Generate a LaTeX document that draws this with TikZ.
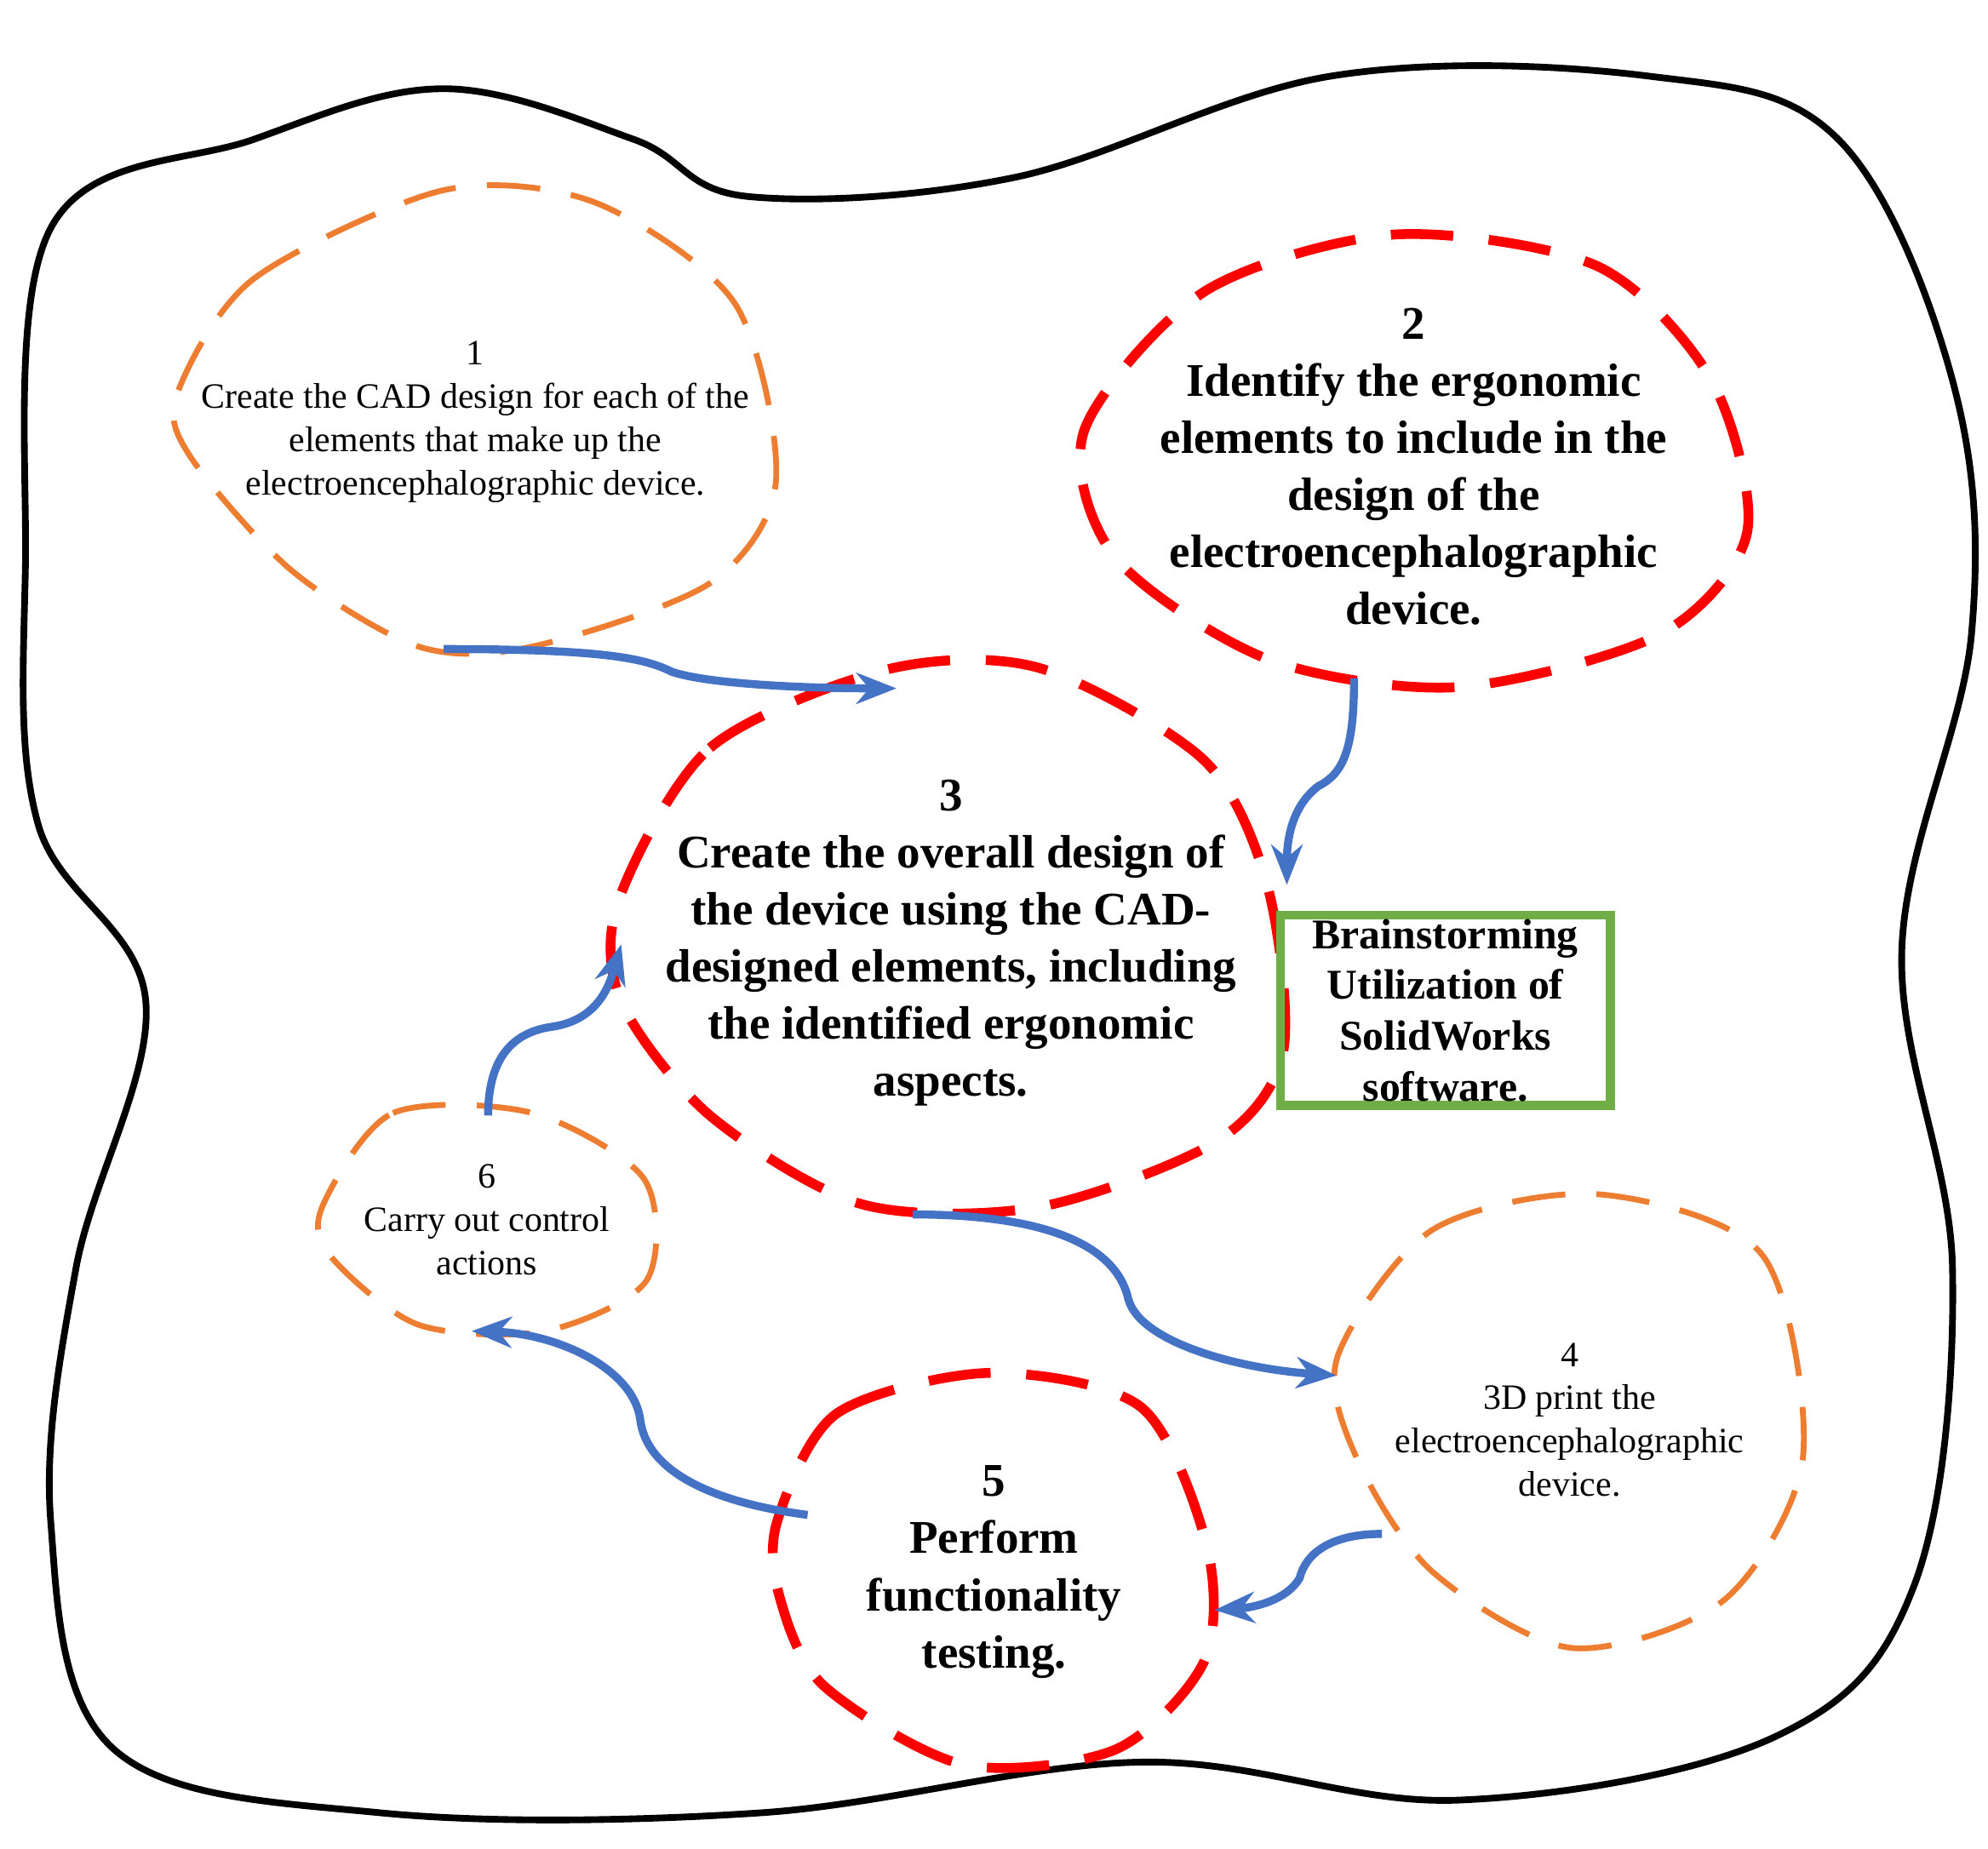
\documentclass[tikz,border=0pt]{standalone}
\usepackage{fontspec}
\setmainfont{Liberation Serif}
\usetikzlibrary{arrows.meta}
\definecolor{bl}{HTML}{4472C4}
\definecolor{org}{HTML}{ED7D31}
\definecolor{gr}{HTML}{70AD47}
\begin{document}
\begin{tikzpicture}[x=0.01cm,y=-0.01cm,
  ob/.style={draw=org,line width=1.3pt,dash pattern=on 12pt off 7pt},
  rb/.style={draw=red,line width=2.2pt,dash pattern=on 14pt off 8pt},
  ar/.style={draw=bl,line width=1.8pt,-{Stealth[length=9pt,width=7pt]}},
  sm/.style={align=center,font=\fontsize{8}{9.7}\selectfont},
  bg/.style={align=center,font=\bfseries\fontsize{10.5}{12.8}\selectfont}]
\useasboundingbox (0,0) rectangle (1568,1458);
% outer
\draw[line width=1.5pt] plot[smooth cycle,tension=0.6] coordinates{(40,180)(200,110)(350,70)(500,110)(590,155)(800,140)(1050,60)(1300,60)(1450,110)(1540,300)(1555,500)(1500,750)(1540,1000)(1510,1250)(1400,1370)(1150,1420)(900,1390)(600,1430)(300,1430)(90,1380)(40,1200)(60,1000)(115,790)(30,650)(20,450)};
% blobs
\draw[ob] plot[smooth cycle] coordinates{(140,310)(200,220)(350,150)(470,160)(580,240)(612,380)(560,460)(420,510)(330,510)(230,450)(150,360)};
\draw[rb] plot[smooth cycle] coordinates{(855,340)(950,230)(1100,185)(1260,210)(1350,300)(1378,420)(1310,500)(1150,542)(1000,520)(880,440)};
\draw[rb] plot[smooth cycle] coordinates{(488,710)(560,590)(700,528)(820,527)(950,600)(1000,700)(1012,830)(960,900)(820,952)(680,950)(560,880)(490,790)};
\draw[ob] plot[smooth cycle] coordinates{(255,950)(310,878)(420,878)(508,930)(510,1010)(430,1050)(330,1045)(260,990)};
\draw[ob] plot[smooth cycle] coordinates{(1055,1070)(1130,970)(1260,942)(1390,990)(1422,1150)(1360,1262)(1240,1300)(1130,1240)(1070,1150)};
\draw[rb] plot[smooth cycle] coordinates{(613,1200)(660,1115)(780,1083)(900,1110)(952,1220)(950,1310)(880,1380)(760,1392)(650,1330)(615,1260)};
% texts
\node[sm] (n1) at (375,333) {1\\Create the CAD design for each of the\\elements that make up the\\electroencephalographic\ device.};
\node[bg] (n2) at (1115,368) {2\\Identify the ergonomic\\elements to include in the\\design of the\\electroencephalographic\\device.};
\node[bg] (n3) at (750,744) {3\\Create the overall design of\\the device using the CAD-\\designed elements, including\\the identified ergonomic\\aspects.};
\node[draw=gr,line width=2pt,minimum width=2.6cm,minimum height=1.5cm,inner sep=0pt,align=center,font=\bfseries\fontsize{9.5}{11.4}\selectfont] (g) at (1140,797) {Brainstorming\\Utilization of\\SolidWorks\\software.};
\node[sm] (n6) at (384,962) {6\\Carry out control\\actions};
\node[sm] (n4) at (1238,1120) {4\\3D print the\\electroencephalographic\\device.};
\node[bg] (n5) at (784,1240) {5\\Perform\\functionality\\testing.};
% arrow endpoints
\coordinate (a1) at (350,512); \coordinate (b1) at (707,543);
\coordinate (a2) at (1068,535); \coordinate (b2) at (1015,698);
\coordinate (a6) at (385,880); \coordinate (b6) at (490,745);
\coordinate (a3) at (720,958); \coordinate (b3) at (1054,1085);
\coordinate (a4) at (1090,1210); \coordinate (b4) at (958,1270);
\coordinate (a5) at (637,1195); \coordinate (b5) at (372,1050);
\draw[ar] (a1) .. controls (480,512) and (510,520) .. (530,530) .. controls (560,540) and (640,543) .. (b1);
\draw[ar] (a2) .. controls (1068,590) and (1060,610) .. (1040,620) .. controls (1020,635) and (1015,660) .. (b2);
\draw[ar] (a6) .. controls (385,840) and (400,815) .. (435,810) .. controls (470,805) and (480,780) .. (b6);
\draw[ar] (a3) .. controls (820,958) and (880,980) .. (890,1025) .. controls (900,1060) and (980,1080) .. (b3);
\draw[ar] (a4) .. controls (1050,1210) and (1030,1225) .. (1025,1245) .. controls (1015,1262) and (990,1268) .. (b4);
\draw[ar] (a5) .. controls (560,1185) and (510,1160) .. (505,1120) .. controls (500,1080) and (440,1052) .. (b5);
\end{tikzpicture}
\end{document}
